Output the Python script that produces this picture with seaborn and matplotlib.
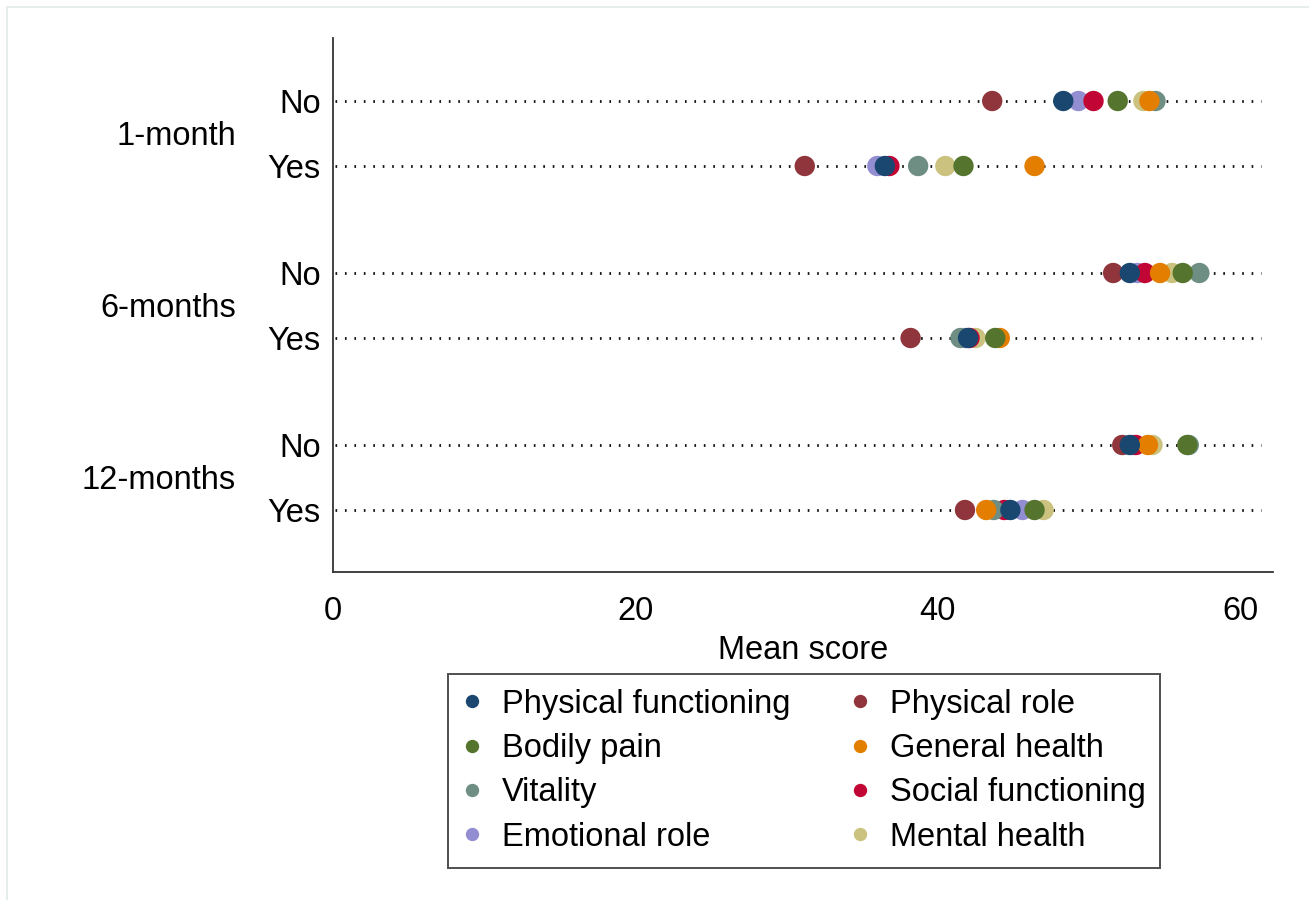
import matplotlib
matplotlib.use("Agg")
import matplotlib.pyplot as plt
import matplotlib.patches as mpatches
import matplotlib.transforms as mtransforms
from matplotlib.lines import Line2D
import numpy as np
import pandas as pd
import seaborn as sns

sns.set_theme(style="white")
plt.rcParams["font.family"] = ["Liberation Sans", "DejaVu Sans"]
plt.rcParams["text.color"] = "black"
plt.rcParams["axes.labelcolor"] = "black"
plt.rcParams["xtick.color"] = "black"
plt.rcParams["ytick.color"] = "black"

# Follow-up periods and response rows
periods = ["1-month", "6-months", "12-months"]
responses = ["No", "Yes"]

# SF-36 domains (legend order) and their colours
domains = ["Physical functioning", "Physical role", "Bodily pain", "General health",
           "Vitality", "Social functioning", "Emotional role", "Mental health"]
colors = ["#1a476f", "#90353b", "#55752f", "#e37e00",
          "#6e8e84", "#c10534", "#938dd2", "#cac27e"]

# Mean scores per domain, rows: 1m No, 1m Yes, 6m No, 6m Yes, 12m No, 12m Yes
physical_functioning = [48.3, 36.5, 52.7, 42.0, 52.7, 44.8]
physical_role        = [43.6, 31.2, 51.6, 38.2, 52.2, 41.8]
bodily_pain          = [51.9, 41.7, 56.2, 43.8, 56.5, 46.4]
general_health       = [54.0, 46.4, 54.7, 44.1, 53.9, 43.2]
vitality             = [54.4, 38.7, 57.3, 41.5, 56.6, 43.7]
social_functioning   = [50.3, 36.8, 53.7, 42.1, 53.1, 44.4]
emotional_role       = [49.3, 36.0, 53.2, 41.8, 52.9, 45.6]
mental_health        = [53.6, 40.5, 55.5, 42.5, 54.2, 47.0]

scores = [physical_functioning, physical_role, bodily_pain, general_health,
          vitality, social_functioning, emotional_role, mental_health]

# Row positions: two rows per period with a wider gap between periods
row_step = 1.0
group_gap = 1.646
row_pos = []
for g in range(len(periods)):
    for r in range(len(responses)):
        row_pos.append(g * (row_step + group_gap) + r * row_step)
row_pos = np.array(row_pos)

records = []
for d, vals in zip(domains, scores):
    for i, v in enumerate(vals):
        records.append({"domain": d, "score": v, "row": row_pos[i]})
df = pd.DataFrame(records)

fig = plt.figure(figsize=(13.09, 9.0), dpi=100)
ax = fig.add_axes([333 / 1309, 1 - 572 / 900, (1273 - 333) / 1309, (572 - 38) / 900])

# Dotted guide lines
ax.hlines(row_pos, 0.1, 61.4, colors="#111111", linewidth=2.0,
          linestyles=(0, (0.6, 2.8)), zorder=1)

# Draw domains in reverse legend order so earlier ones sit on top
for k in reversed(range(len(domains))):
    sub = df[df["domain"] == domains[k]]
    sns.scatterplot(data=sub, x="score", y="row", color=colors[k], s=215,
                    edgecolor="none", linewidth=0, ax=ax,
                    zorder=3 + (len(domains) - k), legend=False)

ax.set_xlim(0, 62.17)
ax.set_ylim(row_pos[-1] + (572 - 510) / 65, row_pos[0] - (101 - 38) / 65)
ax.set_xticks([0, 20, 40, 60])
ax.set_yticks(row_pos)
ax.set_yticklabels(responses * len(periods))
ax.tick_params(axis="x", length=11, width=1.3, color="#333333", labelsize=23.5, pad=6)
ax.tick_params(axis="y", length=0, labelsize=23.5, pad=9)
ax.set_xlabel("Mean score", fontsize=23.5, labelpad=6)
ax.set_ylabel("")

for side in ["top", "right"]:
    ax.spines[side].set_visible(False)
for side in ["left", "bottom"]:
    ax.spines[side].set_color("#333333")
    ax.spines[side].set_linewidth(1.3)

# Period labels to the left of the row labels
label_tf = mtransforms.blended_transform_factory(fig.transFigure, ax.transData)
for g, p in enumerate(periods):
    ymid = (row_pos[2 * g] + row_pos[2 * g + 1]) / 2
    ax.text(236 / 1309, ymid + 0.04, p, transform=label_tf,
            ha="right", va="center", fontsize=23.5)

# Legend: two columns filled row by row
col_order = [0, 2, 4, 6, 1, 3, 5, 7]
handles = [Line2D([0], [0], marker="o", linestyle="none", markersize=9.6,
                  markerfacecolor=colors[i], markeredgecolor="none") for i in col_order]
labels = [domains[i] for i in col_order]
leg = fig.legend(handles, labels, loc="upper center", ncol=2,
                 bbox_to_anchor=(804 / 1309, 1 - 674 / 900), fontsize=23.5,
                 frameon=True, fancybox=False, handlelength=0.6, handletextpad=0.6,
                 columnspacing=1.85, labelspacing=0.41, borderpad=0.45,
                 borderaxespad=0)
leg.get_frame().set_edgecolor("#222222")
leg.get_frame().set_linewidth(1.4)

# Faint outer frame along the top and left edges
fig.add_artist(mpatches.Rectangle((7 / 1309, -0.1), 1.2, (900 - 7) / 900 + 0.1,
                                  transform=fig.transFigure, fill=False,
                                  edgecolor="#e2ebe9", linewidth=1.2))

fig.savefig("out.png", dpi=100, facecolor="white")
